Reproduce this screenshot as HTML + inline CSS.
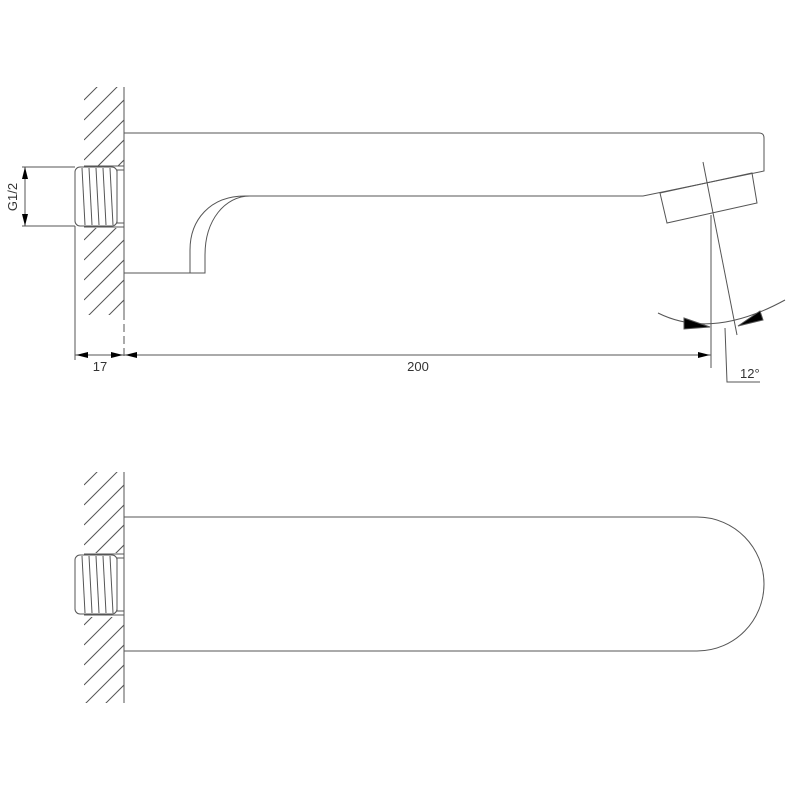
<!DOCTYPE html>
<html><head><style>html,body{margin:0;padding:0;background:#fff}svg{display:block}</style></head>
<body>
<svg width="800" height="800" viewBox="0 0 800 800" xmlns="http://www.w3.org/2000/svg" font-family="Liberation Sans, sans-serif">
<defs>
<clipPath id="h1"><rect x="84" y="87" width="40" height="79"/><rect x="84" y="228" width="40" height="87"/></clipPath>
<clipPath id="h2"><rect x="84" y="472" width="40" height="81"/><rect x="84" y="617" width="40" height="86"/></clipPath>
<g id="hatch" stroke="#555" stroke-width="1">
<line x1="84" y1="40" x2="134" y2="-10"/><line x1="84" y1="60" x2="134" y2="10"/><line x1="84" y1="80" x2="134" y2="30"/>
<line x1="84" y1="100" x2="134" y2="50"/><line x1="84" y1="120" x2="134" y2="70"/><line x1="84" y1="140" x2="134" y2="90"/>
<line x1="84" y1="160" x2="134" y2="110"/><line x1="84" y1="180" x2="134" y2="130"/><line x1="84" y1="200" x2="134" y2="150"/>
<line x1="84" y1="220" x2="134" y2="170"/><line x1="84" y1="240" x2="134" y2="190"/><line x1="84" y1="260" x2="134" y2="210"/>
<line x1="84" y1="280" x2="134" y2="230"/><line x1="84" y1="300" x2="134" y2="250"/><line x1="84" y1="320" x2="134" y2="270"/>
<line x1="84" y1="340" x2="134" y2="290"/><line x1="84" y1="360" x2="134" y2="310"/>
</g>
<g id="nip" fill="none" stroke="#555" stroke-width="1">
<rect x="75" y="0" width="42" height="59" rx="5"/>
<rect x="117" y="3" width="7" height="53"/>
<line x1="84" y1="-1" x2="124" y2="-1"/><line x1="84" y1="60" x2="124" y2="60"/>
<line x1="82" y1="1" x2="85" y2="58"/><line x1="89" y1="1" x2="92" y2="58"/><line x1="96" y1="1" x2="99" y2="58"/>
<line x1="103" y1="1" x2="106" y2="58"/><line x1="110" y1="1" x2="113" y2="58"/>
</g>
</defs>
<g fill="none" stroke="#555" stroke-width="1">
<g clip-path="url(#h1)"><use href="#hatch"/></g>
<line x1="124" y1="87" x2="124" y2="312"/>
<line x1="124" y1="312" x2="124" y2="360" stroke-dasharray="8,4"/>
<use href="#nip" transform="translate(0,167)"/>
<path d="M124 133 H759 Q764 133 764 138 V171 L643 196 H245 C210 196 190 220 190 250 V273 M124 273 H205 V255 C205 220 225 196 250 196"/>
<polygon points="660,193 752,173 757,203 667,223"/>
<line x1="703" y1="162" x2="737" y2="335"/>
<line x1="711" y1="215" x2="711" y2="368"/>
<path d="M658 313 Q712 340 785 300"/>
<polyline points="725,328 727,382 760,382"/>
<polygon points="684,318 710,327 684,329" fill="#000"/>
<polygon points="738,326 760,311 763,320" fill="#000"/>
<line x1="75" y1="226" x2="75" y2="360"/>
<line x1="75" y1="355" x2="711" y2="355"/>
<line x1="22" y1="167" x2="75" y2="167"/><line x1="22" y1="226" x2="75" y2="226"/>
<line x1="25" y1="167" x2="25" y2="226"/>
<g clip-path="url(#h2)"><g transform="translate(0,385)"><use href="#hatch"/></g></g>
<line x1="124" y1="472" x2="124" y2="703"/>
<use href="#nip" transform="translate(0,555)"/>
<path d="M124 517 H697 C735 517 764 548 764 584 C764 620 735 651 697 651 H124"/>
</g>
<g fill="#000">
<polygon points="22,179 25,167 28,179"/><polygon points="22,214 25,226 28,214"/>
<polygon points="76,355 88,352 88,358"/><polygon points="123,355 111,352 111,358"/>
<polygon points="125,355 137,352 137,358"/><polygon points="710,355 698,352 698,358"/>
</g>
<g font-size="13" fill="#333">
<text x="100" y="371" text-anchor="middle">17</text>
<text x="418" y="371" text-anchor="middle">200</text>
<text x="740" y="378">12°</text>
<text transform="translate(17,197) rotate(-90)" text-anchor="middle">G1/2</text>
</g>
</svg>
</body></html>
